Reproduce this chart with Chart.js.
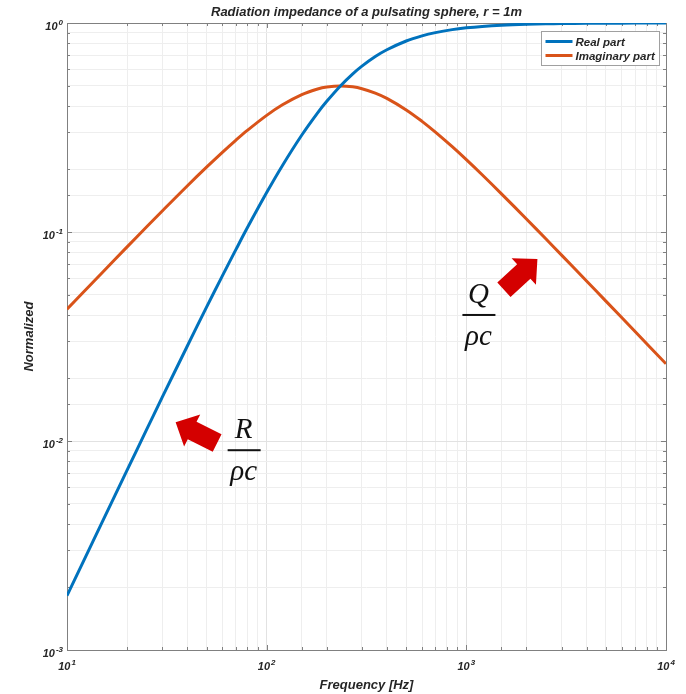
<!DOCTYPE html>
<html>
<head>
<meta charset="utf-8">
<script src="https://cdn.jsdelivr.net/npm/chart.js@4.4.0/dist/chart.umd.min.js"></script>
<style>
  html, body { margin: 0; padding: 0; background: #fff; }
</style>
</head>
<body>
<canvas id="chart" width="686" height="694"></canvas>
<script>
// frequency samples [Hz]
const freqs = [10, 12, 15, 20, 25, 30, 40, 50, 60, 70, 80, 100, 120, 150, 180, 200, 234, 270, 300, 350,
  400, 500, 600, 700, 850, 1000, 1200, 1500, 2000, 2500, 3000, 4000, 5000, 7000, 10000];
const realPart = [0.00182, 0.00262, 0.00409, 0.00725, 0.0113, 0.0162, 0.0284, 0.0437, 0.0617, 0.0821, 0.1047,
  0.1544, 0.2082, 0.2912, 0.3718, 0.4221, 0.5, 0.5711, 0.6217, 0.6911,
  0.745, 0.8203, 0.868, 0.8995, 0.9296, 0.9481, 0.9634, 0.9762, 0.9865, 0.9913, 0.994, 0.9966, 0.9978, 0.9989, 0.9995];
const imagPart = [0.0427, 0.0512, 0.0638, 0.0849, 0.1056, 0.1261, 0.1661, 0.2043, 0.2406, 0.2746, 0.3061,
  0.3614, 0.406, 0.4543, 0.4833, 0.4939, 0.5, 0.4949, 0.485, 0.462,
  0.4358, 0.3839, 0.3385, 0.3006, 0.2559, 0.2219, 0.1879, 0.1523, 0.1154, 0.0928, 0.0775, 0.0583, 0.0467, 0.0334, 0.0234];

const seriesNames = ['Real part', 'Imaginary part'];
const seriesColors = ['#0072BD', '#D95319'];

// decade tick labels: base "10" plus exponent
const xDecades = [10, 100, 1000, 10000];
const xExponents = ['1', '2', '3', '4'];
const yDecades = [0.001, 0.01, 0.1, 1];
const yExponents = ['-3', '-2', '-1', '0'];

const fontFamily = "'Liberation Sans', Arial, sans-serif";
const titleFont = { family: fontFamily, size: 13, weight: 'bold', style: 'italic' };
const textColor = '#262626';

// arrow + fraction annotations, anchored in data units
const notes = [
  { text: 'R', f: 35, v: 0.0123, dir: [41.5, 20.8], dx: 68, dy: 28 },
  { text: 'Q', f: 2270, v: 0.0743, dir: [-33.5, 30.7], dx: -59, dy: 56 }
];

function isDecade(v) {
  const l = Math.log10(v);
  return Math.abs(l - Math.round(l)) < 1e-6;
}

function drawArrow(ctx, tx, ty, dx, dy) {
  const len = Math.hypot(dx, dy);
  const ux = dx / len, uy = dy / len;
  const px = -uy, py = ux;
  const headL = 18.5, headW = 18, shaftW = 9.8;
  const bx = tx + ux * headL, by = ty + uy * headL;
  const ex = tx + dx, ey = ty + dy;
  ctx.beginPath();
  ctx.moveTo(tx, ty);
  ctx.lineTo(bx + px * headW, by + py * headW);
  ctx.lineTo(bx + px * shaftW, by + py * shaftW);
  ctx.lineTo(ex + px * shaftW, ey + py * shaftW);
  ctx.lineTo(ex - px * shaftW, ey - py * shaftW);
  ctx.lineTo(bx - px * shaftW, by - py * shaftW);
  ctx.lineTo(bx - px * headW, by - py * headW);
  ctx.closePath();
  ctx.fill();
}

// "10" with a raised exponent; align is 'right' or 'center' around x
function drawPower(ctx, x, baseY, exp, align) {
  const big = `italic bold 11px ${fontFamily}`;
  const small = `italic bold 8px ${fontFamily}`;
  ctx.font = big;
  const wb = ctx.measureText('10').width;
  ctx.font = small;
  const we = ctx.measureText(exp).width;
  const total = wb + 1 + we;
  const left = align === 'right' ? x - total : x - total / 2;
  ctx.textAlign = 'left';
  ctx.textBaseline = 'alphabetic';
  ctx.font = big;
  ctx.fillText('10', left, baseY);
  ctx.font = small;
  ctx.fillText(exp, left + wb + 1, baseY - 5);
}

const extras = {
  id: 'extras',
  beforeDatasetsDraw(chart) {
    const { ctx, chartArea: a, scales: { x, y } } = chart;
    ctx.save();
    ctx.strokeStyle = '#808080';
    ctx.lineWidth = 1;
    ctx.beginPath();
    x.ticks.forEach(t => {
      const px = Math.round(x.getPixelForValue(t.value)) + 0.5;
      const l = isDecade(t.value) ? 5 : 3;
      ctx.moveTo(px, a.bottom); ctx.lineTo(px, a.bottom - l);
      ctx.moveTo(px, a.top); ctx.lineTo(px, a.top + l);
    });
    y.ticks.forEach(t => {
      const py = Math.round(y.getPixelForValue(t.value)) + 0.5;
      const l = isDecade(t.value) ? 5 : 3;
      ctx.moveTo(a.left, py); ctx.lineTo(a.left + l, py);
      ctx.moveTo(a.right, py); ctx.lineTo(a.right - l, py);
    });
    ctx.stroke();
    ctx.strokeRect(Math.round(a.left) + 0.5, Math.round(a.top) + 0.5,
      Math.round(a.right - a.left), Math.round(a.bottom - a.top));
    ctx.restore();
  },
  afterDatasetsDraw(chart) {
    const { ctx, chartArea: a, scales: { x, y } } = chart;
    ctx.save();
    // tick labels
    ctx.fillStyle = textColor;
    xDecades.forEach((d, i) => drawPower(ctx, x.getPixelForValue(d), a.bottom + 20, xExponents[i], 'center'));
    yDecades.forEach((d, i) => drawPower(ctx, a.left - 4, y.getPixelForValue(d) + 7, yExponents[i], 'right'));
    // legend
    const bw = 118, bh = 34;
    const bx = Math.round(a.right - 7 - bw) + 0.5, by = Math.round(a.top + 8) + 0.5;
    ctx.fillStyle = '#fff';
    ctx.fillRect(bx, by, bw, bh);
    ctx.strokeStyle = '#a0a0a0';
    ctx.lineWidth = 1;
    ctx.strokeRect(bx, by, bw, bh);
    ctx.font = `italic bold 11.5px ${fontFamily}`;
    ctx.textAlign = 'left';
    ctx.textBaseline = 'middle';
    seriesNames.forEach((n, i) => {
      const ly = by + 10 + i * 14;
      ctx.strokeStyle = seriesColors[i];
      ctx.lineWidth = 3;
      ctx.beginPath();
      ctx.moveTo(bx + 4, ly); ctx.lineTo(bx + 31, ly);
      ctx.stroke();
      ctx.fillStyle = textColor;
      ctx.fillText(n, bx + 34, ly + 1);
    });
    // arrows and fractions
    notes.forEach(n => {
      const tx = x.getPixelForValue(n.f), ty = y.getPixelForValue(n.v);
      ctx.fillStyle = '#D40000';
      drawArrow(ctx, tx, ty, n.dir[0], n.dir[1]);
      const cx = tx + n.dx, barY = ty + n.dy;
      ctx.fillStyle = '#111';
      ctx.fillRect(cx - 16, barY - 1, 33, 2);
      ctx.font = 'italic 29px "Liberation Serif", "DejaVu Serif", serif';
      ctx.textAlign = 'center';
      ctx.textBaseline = 'alphabetic';
      ctx.fillText(n.text, cx, barY - 12);
      ctx.fillText('\u03C1c', cx, barY + 30);
    });
    ctx.restore();
  }
};

const ctx = document.getElementById('chart').getContext('2d');
new Chart(ctx, {
  type: 'line',
  data: {
    datasets: [
      { label: seriesNames[0], data: freqs.map((f, i) => ({ x: f, y: realPart[i] })),
        borderColor: seriesColors[0], borderWidth: 3, pointRadius: 0, tension: 0.35 },
      { label: seriesNames[1], data: freqs.map((f, i) => ({ x: f, y: imagPart[i] })),
        borderColor: seriesColors[1], borderWidth: 3, pointRadius: 0, tension: 0.35 }
    ]
  },
  options: {
    responsive: false,
    animation: false,
    layout: { padding: { left: 0, right: 20, top: 0, bottom: 0 } },
    plugins: {
      legend: { display: false },
      tooltip: { enabled: false },
      title: {
        display: true,
        text: 'Radiation impedance of a pulsating sphere, r = 1m',
        fullSize: false,
        color: textColor,
        font: titleFont,
        padding: { top: 4.4, bottom: 3 }
      }
    },
    scales: {
      x: {
        type: 'logarithmic',
        min: 10, max: 10000,
        afterFit: s => { s.height = 44; },
        border: { display: false },
        grid: { drawTicks: false, color: c => isDecade(c.tick.value) ? '#e2e2e2' : '#eeeeee' },
        ticks: { display: false, autoSkip: false },
        title: { display: true, text: 'Frequency [Hz]', color: textColor, font: titleFont, padding: { bottom: 1.2, top: 0 } }
      },
      y: {
        type: 'logarithmic',
        min: 0.001, max: 1,
        afterFit: s => { s.width = 67; },
        border: { display: false },
        grid: { drawTicks: false, color: c => isDecade(c.tick.value) ? '#e2e2e2' : '#eeeeee' },
        ticks: { display: false, autoSkip: false },
        title: { display: true, text: 'Normalized', color: textColor, font: titleFont, padding: { top: 22, bottom: 0 } }
      }
    }
  },
  plugins: [extras]
});
</script>
</body>
</html>
